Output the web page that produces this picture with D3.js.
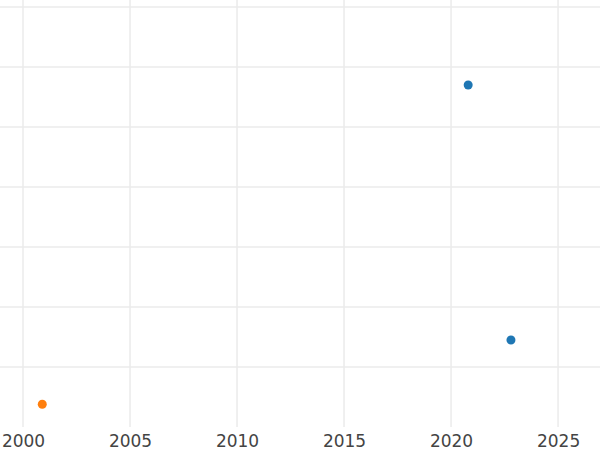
<!DOCTYPE html>
<html>
<head>
<meta charset="utf-8">
<script src="https://cdn.jsdelivr.net/npm/d3@7"></script>
<style>
  html, body { margin: 0; padding: 0; background: #fff; }
  svg { display: block; }
  .x_axis text { font-family: "DejaVu Sans", sans-serif; font-size: 17px; fill: #444; }
  .grid line { stroke: #ebebeb; stroke-width: 1.5; }
</style>
</head>
<body>
<div id="chart"></div>
<script>
// data
var years = [2020.8, 2022.8, 2000.9];
var values = [5.7, 1.45, 0.38];
var series = ["a", "a", "b"];
var x_ticks = [2000, 2005, 2010, 2015, 2020, 2025];
var y_ticks = [1, 2, 3, 4, 5, 6, 7];
var colors = { a: "#1f77b4", b: "#ff7f0e" };

var width = 600, height = 450, plot_bottom = 427;
var svg = d3.select('#chart').append('svg').attr('width', width).attr('height', height);

var x_scale = d3.scaleLinear().domain([1998.925, 2026.96]).range([0, width]);
var y_scale = d3.scaleLinear().domain([0, 7.117]).range([plot_bottom, 0]);

// vertical grid
svg.append('g').attr('class', 'grid')
    .selectAll('line').data(x_ticks).enter().append('line')
    .attr('x1', d => x_scale(d)).attr('x2', d => x_scale(d))
    .attr('y1', 0).attr('y2', plot_bottom);

// horizontal grid
svg.append('g').attr('class', 'grid')
    .selectAll('line').data(y_ticks).enter().append('line')
    .attr('x1', 0).attr('x2', width)
    .attr('y1', d => y_scale(d)).attr('y2', d => y_scale(d));

// x axis labels only
var x_axis = svg.append('g').attr('class', 'x_axis')
    .attr('transform', 'translate(0,' + plot_bottom + ')')
    .call(d3.axisBottom(x_scale).tickValues(x_ticks).tickFormat(d3.format('d')).tickSize(0).tickPadding(6));
x_axis.select('.domain').remove();
x_axis.selectAll('text').attr('dy', null).attr('y', 20);

// points
svg.append('g').selectAll('circle').data(years).enter().append('circle')
    .attr('cx', d => x_scale(d))
    .attr('cy', (d, i) => y_scale(values[i]))
    .attr('r', 4.5)
    .attr('fill', (d, i) => colors[series[i]]);
</script>
</body>
</html>
